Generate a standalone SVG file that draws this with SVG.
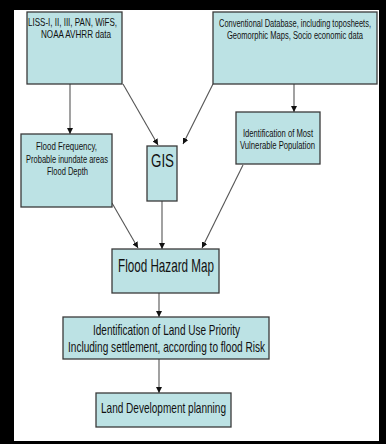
<svg xmlns="http://www.w3.org/2000/svg" width="386" height="444" viewBox="0 0 386 444">
<defs>
<marker id="ah" markerWidth="6" markerHeight="6" refX="6" refY="3" orient="auto" markerUnits="userSpaceOnUse">
<path d="M0,0 L6,3 L0,6 Z" fill="#111"/>
</marker>
</defs>
<style>
.box{fill:#bce2e4;stroke:#3a3a3a;stroke-width:1.3}
text{font-family:"Liberation Sans",Arial,sans-serif;fill:#111;text-anchor:middle}
.s{font-size:11px}
.t{font-size:10.5px}
.m{font-size:14.5px}
.l{font-size:19px}
.c{stroke:#555;stroke-width:1.1;fill:none;marker-end:url(#ah)}
</style>
<rect x="0" y="0" width="386" height="444" fill="#000"/>
<rect x="14" y="10" width="365" height="431" fill="#fff"/>
<g id="connectors">
<line class="c" x1="70" y1="84" x2="70" y2="134"/>
<line class="c" x1="123" y1="84" x2="158" y2="145"/>
<line class="c" x1="213" y1="84" x2="183" y2="144"/>
<line class="c" x1="294" y1="84" x2="294" y2="112"/>
<line class="c" x1="112" y1="203" x2="138" y2="248"/>
<line class="c" x1="162" y1="201" x2="162" y2="249"/>
<line class="c" x1="243" y1="165" x2="202" y2="248"/>
<line class="c" x1="159" y1="293" x2="159" y2="317"/>
<line class="c" x1="159" y1="359" x2="159" y2="393"/>
</g>
<g id="liss">
<rect class="box" x="27" y="12" width="95" height="72"/>
<text class="s" x="72.5" y="26" textLength="89" lengthAdjust="spacingAndGlyphs">LISS-I, II, III, PAN, WiFS,</text>
<text class="s" x="76" y="38" textLength="70" lengthAdjust="spacingAndGlyphs">NOAA AVHRR data</text>
</g>
<g id="conventional">
<rect class="box" x="213" y="12" width="164" height="72"/>
<text class="t" x="295" y="27" textLength="152" lengthAdjust="spacingAndGlyphs">Conventional Database, including toposheets,</text>
<text class="t" x="295" y="39" textLength="136" lengthAdjust="spacingAndGlyphs">Geomorphic Maps, Socio economic data</text>
</g>
<g id="flood-frequency">
<rect class="box" x="21" y="134" width="91" height="73"/>
<text class="s" x="66.5" y="150" textLength="61" lengthAdjust="spacingAndGlyphs">Flood Frequency,</text>
<text class="s" x="67" y="162.5" textLength="82" lengthAdjust="spacingAndGlyphs">Probable inundate areas</text>
<text class="s" x="67.5" y="175" textLength="41" lengthAdjust="spacingAndGlyphs">Flood Depth</text>
</g>
<g id="gis">
<rect class="box" x="147" y="146" width="30" height="55"/>
<text class="l" x="162.5" y="167" textLength="23" lengthAdjust="spacingAndGlyphs">GIS</text>
</g>
<g id="vulnerable">
<rect class="box" x="236" y="112" width="84" height="52"/>
<text class="s" x="278" y="137" textLength="70" lengthAdjust="spacingAndGlyphs">Identification of Most</text>
<text class="s" x="277.5" y="149" textLength="75" lengthAdjust="spacingAndGlyphs">Vulnerable Population</text>
</g>
<g id="flood-hazard-map">
<rect class="box" x="112" y="249" width="107" height="44"/>
<text class="l" x="166" y="272" textLength="96" lengthAdjust="spacingAndGlyphs">Flood Hazard Map</text>
</g>
<g id="land-use-priority">
<rect class="box" x="63" y="317" width="206" height="42"/>
<text class="m" x="166.5" y="335" textLength="147" lengthAdjust="spacingAndGlyphs">Identification of Land Use Priority</text>
<text class="m" x="166.5" y="352" textLength="197" lengthAdjust="spacingAndGlyphs">Including settlement, according to flood Risk</text>
</g>
<g id="land-development">
<rect class="box" x="96" y="393" width="135" height="34"/>
<text class="m" x="163.5" y="413" textLength="125" lengthAdjust="spacingAndGlyphs">Land Development planning</text>
</g>
</svg>
